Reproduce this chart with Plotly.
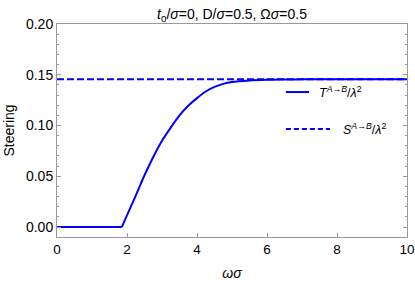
import plotly.graph_objects as go

# data
omega_sigma_flat = [0, 1.85]
transfer_flat = [0, 0]
omega_sigma_rise = [1.85, 2.0, 2.25, 2.5, 2.75, 3.0, 3.25, 3.5, 3.75, 4.0, 4.25, 4.5,
                    4.75, 5.0, 5.5, 6.0, 6.5, 7.0, 8.0, 9.0, 10.0]
transfer_rise = [0, 0.0115, 0.031, 0.051, 0.069, 0.085, 0.098, 0.110, 0.1195, 0.127,
                 0.1335, 0.138, 0.141, 0.1428, 0.1443, 0.1450, 0.1453, 0.1455, 0.1455,
                 0.1455, 0.1455]
steer_level = 0.1455
x_ticks = [0, 2, 4, 6, 8, 10]
y_ticks = [0.00, 0.05, 0.10, 0.15, 0.20]

BLUE = "#0000ff"
FONT = "Liberation Sans, Arial, sans-serif"
AX = "#999999"

fig = go.Figure()
fig.add_trace(go.Scatter(x=[x_ticks[0], x_ticks[-1]], y=[steer_level, steer_level],
                         mode="lines", line=dict(color=BLUE, width=2, dash="7px,3px"),
                         showlegend=False, hoverinfo="skip"))
fig.add_trace(go.Scatter(x=omega_sigma_flat, y=transfer_flat, mode="lines",
                         line=dict(color=BLUE, width=2), showlegend=False))
fig.add_trace(go.Scatter(x=omega_sigma_rise, y=transfer_rise, mode="lines",
                         line=dict(color=BLUE, width=2, shape="spline", smoothing=0.8),
                         showlegend=False))

# legend (drawn manually to match reference look)
fig.add_shape(type="line", xref="paper", yref="paper", x0=0.654, x1=0.72, y0=0.6806, y1=0.6806,
              line=dict(color=BLUE, width=2))
fig.add_shape(type="line", xref="paper", yref="paper", x0=0.654, x1=0.78, y0=0.507, y1=0.507,
              line=dict(color=BLUE, width=2, dash="5px,3px"))
fig.add_annotation(xref="paper", yref="paper", x=0.743, y=0.6806, xanchor="left", yanchor="middle",
                   text="<i>T</i><sup><i>A</i>→<i>B</i></sup>/<i>λ</i><sup>2</sup>",
                   showarrow=False, font=dict(family=FONT, size=12.5, color="black"))
fig.add_annotation(xref="paper", yref="paper", x=0.811, y=0.507, xanchor="left", yanchor="middle",
                   text="<i>S</i><sup><i>A</i>→<i>B</i></sup>/<i>λ</i><sup>2</sup>",
                   showarrow=False, font=dict(family=FONT, size=12.5, color="black"))

fig.update_layout(
    width=415, height=284,
    margin=dict(l=57, r=8, t=24, b=47, autoexpand=False),
    paper_bgcolor="white", plot_bgcolor="white",
    font=dict(family=FONT, size=14, color="black"),
    title=dict(text="<i>t</i><sub>0</sub>/<i>σ</i>=0, D/<i>σ</i>=0.5, Ω<i>σ</i>=0.5",
               x=0.5, xref="paper", xanchor="center", y=1 - 14 / 284, yref="container",
               yanchor="middle", font=dict(family=FONT, size=14, color="black")),
    showlegend=False,
)
fig.update_xaxes(range=[0, 10], tickvals=x_ticks, ticktext=[str(v) for v in x_ticks],
                 automargin=False,
                 showgrid=False, zeroline=False, showline=True, linecolor=AX, linewidth=1,
                 mirror=True, ticks="inside", ticklen=4, tickcolor=AX,
                 tickfont=dict(size=13.5), ticklabeloverflow="allow",
                 title=dict(text="<i>ωσ</i>", standoff=11, font=dict(size=14)))
fig.update_yaxes(range=[-0.0098, 0.2], tickvals=y_ticks, ticktext=[f"{v:.2f}" for v in y_ticks],
                 automargin=False,
                 showgrid=False, zeroline=False, showline=True, linecolor=AX, linewidth=1,
                 mirror="ticks", ticks="inside", ticklen=4, tickcolor=AX,
                 minor=dict(dtick=0.01, tick0=0, ticks="inside", ticklen=2, tickcolor=AX, showgrid=False),
                 title=dict(text="Steering", standoff=8, font=dict(size=14)))

fig.write_html("out.html", config={"displayModeBar": False},
               post_script="document.body.style.margin='0';document.body.style.overflow='hidden';")
